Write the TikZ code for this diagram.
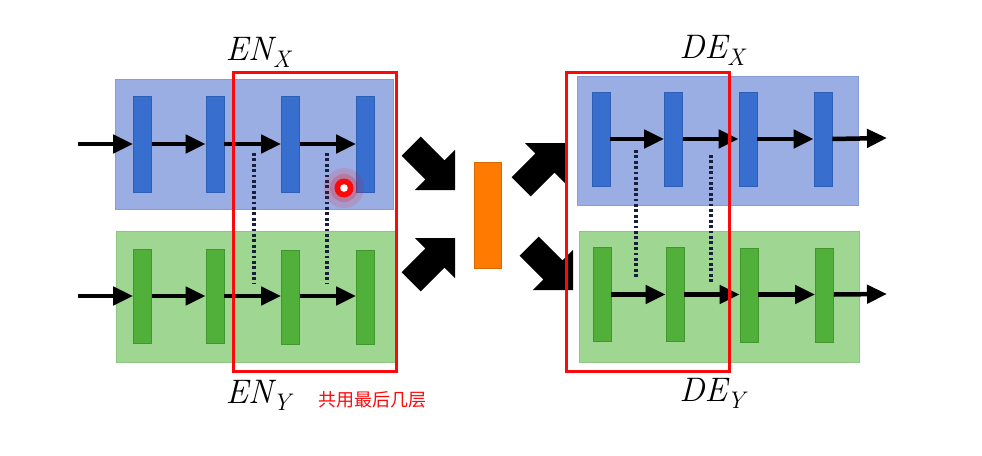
\documentclass[tikz,border=0pt]{standalone}
\usepackage{fontspec}
\newfontfamily\cjk{Noto Sans CJK SC}
\usetikzlibrary{arrows.meta}
\definecolor{bluebox}{RGB}{155,174,228}
\definecolor{blueboxedge}{RGB}{135,155,215}
\definecolor{bluebar}{RGB}{56,110,205}
\definecolor{bluebaredge}{RGB}{45,95,180}
\definecolor{greenbox}{RGB}{158,214,146}
\definecolor{greenboxedge}{RGB}{140,200,128}
\definecolor{greenbar}{RGB}{80,176,58}
\definecolor{greenbaredge}{RGB}{65,150,48}
\definecolor{framered}{RGB}{250,10,10}
\definecolor{orangebar}{RGB}{255,122,0}
\definecolor{dotcol}{RGB}{25,30,60}
\newcommand{\modlabel}[2]{{\itshape\fontsize{34}{38}\selectfont #1\raisebox{-7pt}{\fontsize{24}{26}\selectfont #2}}}
\begin{document}
\begin{tikzpicture}[x=1pt,y=-1pt,
  bboxs/.style={fill=bluebox, draw=blueboxedge, line width=1pt},
  gboxs/.style={fill=greenbox, draw=greenboxedge, line width=1pt},
  bbar/.style={rectangle, fill=bluebar, draw=bluebaredge, line width=0.8pt, minimum width=18pt, minimum height=96pt, inner sep=0pt},
  gbar/.style={rectangle, fill=greenbar, draw=greenbaredge, line width=0.8pt, minimum width=18pt, minimum height=94pt, inner sep=0pt},
  flow/.style={-{Triangle[length=20pt,width=18pt]}, line width=4.5pt, black},
  tie/.style={dotcol, line width=3.2pt, dash pattern=on 2.8pt off 2.6pt},
  redframe/.style={draw=framered, line width=3pt},
  lbl/.style={inner sep=0pt},
  note/.style={font=\cjk\fontsize{18}{20}\selectfont, text=framered, inner sep=0pt},
  fatarrow/.style={fill=black}
]
\useasboundingbox (0,0) rectangle (982,455);

% background boxes
\draw[bboxs] (115,79) rectangle (393,209);
\draw[gboxs] (116,231) rectangle (396,362);
\draw[bboxs] (577,76) rectangle (858,205);
\draw[gboxs] (579,231) rectangle (859,362);

% encoder X bars
\node[bbar] (ex1) at (142.5,144) {};
\node[bbar] (ex2) at (215,144) {};
\node[bbar] (ex3) at (290.5,144) {};
\node[bbar] (ex4) at (365.5,144) {};
% encoder Y bars
\node[gbar] (ey1) at (142.5,296) {};
\node[gbar] (ey2) at (215,296) {};
\node[gbar] (ey3) at (290.5,297) {};
\node[gbar] (ey4) at (365.5,297) {};
% decoder X bars
\node[bbar, minimum height=94pt] (dx1) at (601,139) {};
\node[bbar, minimum height=94pt] (dx2) at (673.5,139) {};
\node[bbar, minimum height=94pt] (dx3) at (748,139) {};
\node[bbar, minimum height=94pt] (dx4) at (823,139) {};
% decoder Y bars
\node[gbar] (dy1) at (602,294.5) {};
\node[gbar] (dy2) at (675,294.5) {};
\node[gbar] (dy3) at (749,295) {};
\node[gbar] (dy4) at (824.5,295) {};

% middle bar
\node[rectangle, fill=orangebar, draw=orangebar!85!black, line width=0.6pt, minimum width=27pt, minimum height=106pt, inner sep=0pt] (mid) at (487.5,215) {};

% encoder arrows
\coordinate (inx) at (78,144);
\coordinate (iny) at (78,296);
\draw[flow] (inx) -- (ex1.west);
\draw[flow] (ex1.east) -- (ex2.west);
\draw[flow] (ex2.east) -- (ex3.west);
\draw[flow] (ex3.east) -- (ex4.west);
\draw[flow] (iny) -- (ey1.west);
\draw[flow] (ey1.east) -- (ey2.west);
\draw[flow] (ey2.east) -- (ey3.west |- ey2.east);
\draw[flow] (ey3.east |- ey2.east) -- (ey4.west |- ey2.east);

% decoder arrows
\coordinate (outx) at (887,138);
\coordinate (outy) at (887,294);
\draw[flow] (dx1.east) -- (dx2.west);
\draw[flow] (dx2.east) -- (dx3.west);
\draw[flow] (dx3.east) -- (dx4.west);
\draw[flow] (dx4.east) -- (outx);
\draw[flow] (dy1.east) -- (dy2.west);
\draw[flow] (dy2.east) -- (dy3.west |- dy2.east);
\draw[flow] (dy3.east |- dy2.east) -- (dy4.west |- dy2.east);
\draw[flow] (dy4.east |- dy2.east) -- (outy);

% dotted ties
\coordinate (t1a) at (254,153); \coordinate (t1b) at (254,283);
\coordinate (t2a) at (327,153); \coordinate (t2b) at (327,283);
\coordinate (t3a) at (636,150); \coordinate (t3b) at (636,279);
\coordinate (t4a) at (711,155); \coordinate (t4b) at (711,283);
\draw[tie] (t1a) -- (t1b);
\draw[tie] (t2a) -- (t2b);
\draw[tie] (t3a) -- (t3b);
\draw[tie] (t4a) -- (t4b);

% fat arrows (tip at origin, pointing along +x)
\foreach \tx/\ty/\ang in {455/190/-45, 455/238/45, 565/143/45, 573/290/-45}{
  \fill[fatarrow, shift={(\tx,\ty)}, rotate=\ang]
    (0,0) -- (-28.3,28.3) -- (-28.3,13.5) -- (-62,13.5) -- (-62,-13.5)
    -- (-28.3,-13.5) -- (-28.3,-28.3) -- cycle;
}

% red frames
\draw[redframe] (233,72) rectangle (396,371);
\draw[redframe] (566,72) rectangle (729,371);

% laser dot
\fill[red, opacity=0.12] (344,188) circle (20);
\fill[red, opacity=0.2] (344,188) circle (14);
\fill[framered] (344,188) circle (9.5);
\fill[white] (344,188) circle (3.8);

% labels
\node[lbl] (lenx) at (258,52) {\modlabel{EN}{X}};
\node[lbl] (leny) at (258,395) {\modlabel{EN}{Y}};
\node[lbl] (ldex) at (712,50) {\modlabel{DE}{X}};
\node[lbl] (ldey) at (712,393) {\modlabel{DE}{Y}};
\node[note] (share) at (372,400) {共用最后几层};
\end{tikzpicture}
\end{document}
